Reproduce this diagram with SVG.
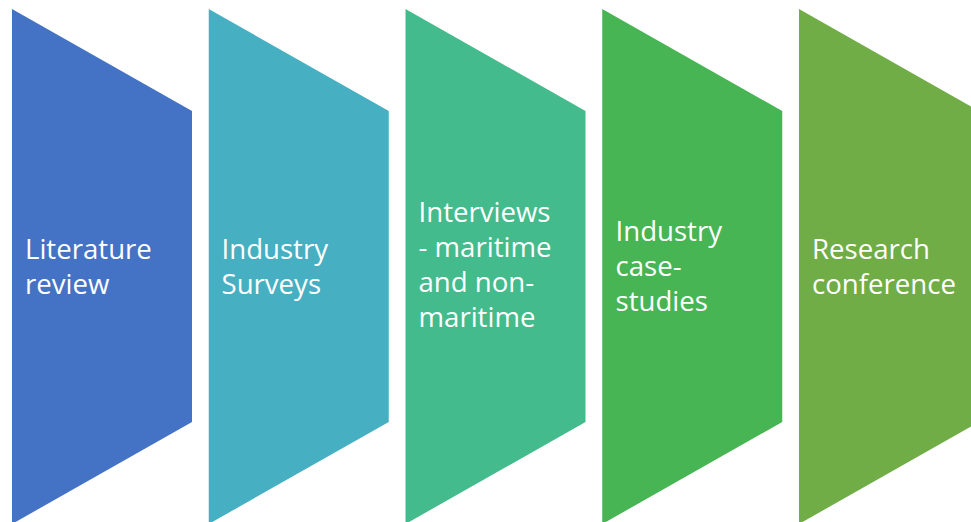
<svg xmlns="http://www.w3.org/2000/svg" width="971" height="522" viewBox="0 0 971 522">
<style>
.lbl{font-family:"Open Sans","Noto Sans","Liberation Sans",sans-serif;font-size:27.6px;fill:#ffffff}
</style>
<defs>
<polygon id="chev" points="0,9 180,111 180,422 0,524"/>
</defs>
<rect width="971" height="522" fill="#ffffff"/>
<g id="node1">
<use href="#chev" x="12" fill="#4472C4"/>
<text class="lbl"><tspan x="25" y="259">Literature</tspan><tspan x="25" y="294">review</tspan></text>
</g>
<g id="node2">
<use href="#chev" x="208.75" fill="#46AFC2"/>
<text class="lbl"><tspan x="221.5" y="259">Industry</tspan><tspan x="221.5" y="294">Surveys</tspan></text>
</g>
<g id="node3">
<use href="#chev" x="405.5" fill="#44BB8D"/>
<text class="lbl"><tspan x="418.5" y="222">Interviews</tspan><tspan x="418.5" y="257">- maritime</tspan><tspan x="418.5" y="292">and non-</tspan><tspan x="418.5" y="327">maritime</tspan></text>
</g>
<g id="node4">
<use href="#chev" x="602.25" fill="#47B553"/>
<text class="lbl"><tspan x="615.5" y="241">Industry</tspan><tspan x="615.5" y="276">case-</tspan><tspan x="615.5" y="311">studies</tspan></text>
</g>
<g id="node5">
<use href="#chev" x="799" fill="#70AD47"/>
<text class="lbl"><tspan x="812" y="259">Research</tspan><tspan x="812" y="294">conference</tspan></text>
</g>
<g id="connectors"/>
</svg>
